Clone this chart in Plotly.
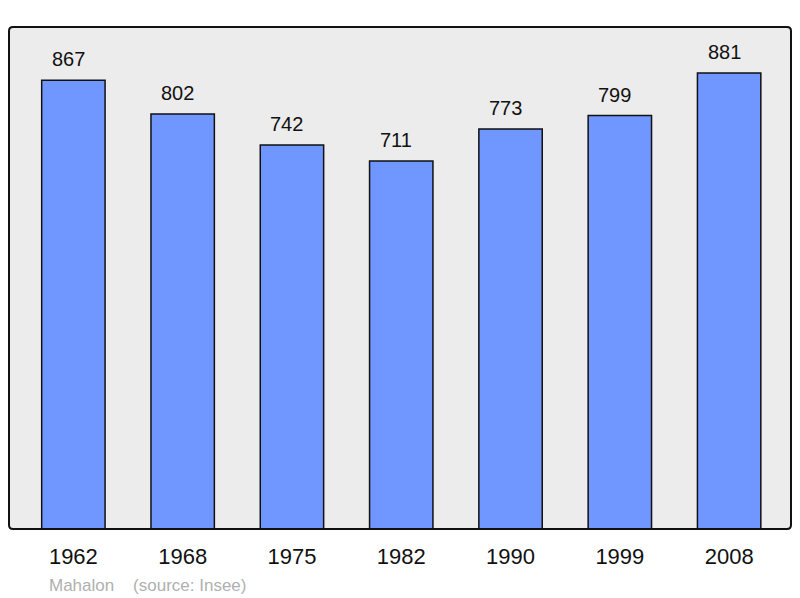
import plotly.graph_objects as go

years = ["1962", "1968", "1975", "1982", "1990", "1999", "2008"]
population = [867, 802, 742, 711, 773, 799, 881]
commune = "Mahalon"
source = "(source: Insee)"

# page has an 8px body margin: positions below are figure coords (page - 8)
OFF = 8
W, H = 792, 590
ml, mt = 9 - OFF, 27 - OFF
mr = W - (791 - OFF)
mb = H - (529 - OFF)
pw, ph = W - ml - mr, H - mt - mb

fig = go.Figure()
fig.add_trace(go.Bar(
    x=list(range(len(years))), y=population, width=0.58,
    marker=dict(color="#7097ff", line=dict(color="#111111", width=1.5)),
    hoverinfo="skip",
))

for i, v in enumerate(population):
    fig.add_annotation(x=i, y=v, text=str(v), showarrow=False, yanchor="bottom",
                       yshift=8, xshift=-5,
                       font=dict(family="Liberation Sans, Arial", size=20, color="#111111"))

fig.add_annotation(xref="paper", yref="paper", x=(47 - OFF - ml) / pw, y=-(585 - 529) / ph,
                   xanchor="left", yanchor="middle", showarrow=False,
                   text=commune + "&nbsp;&nbsp;&nbsp;&nbsp;" + source,
                   font=dict(family="Liberation Sans, Arial", size=17, color="#b0b0b0"))

# rounded frame
r = 4
rx, ry = r / pw, r / ph
path = (f"M {rx},0 L {1-rx},0 Q 1,0 1,{ry} L 1,{1-ry} Q 1,1 {1-rx},1 "
        f"L {rx},1 Q 0,1 0,{1-ry} L 0,{ry} Q 0,0 {rx},0 Z")
fig.add_shape(type="path", path=path, xref="paper", yref="paper",
              line=dict(color="#111111", width=2), layer="above")

fig.update_layout(
    width=W, height=H, margin=dict(l=ml, r=mr, t=mt, b=mb),
    paper_bgcolor="white", plot_bgcolor="#ececec", showlegend=False,
    xaxis=dict(range=[-0.589, 6.566], tickmode="array", tickvals=list(range(len(years))), ticktext=years,
               showgrid=False, zeroline=False, ticks="outside", ticklen=8, tickcolor="rgba(0,0,0,0)",
               tickfont=dict(family="Liberation Sans, Arial", size=22, color="#111111"), fixedrange=True),
    yaxis=dict(range=[0, 970], showgrid=False, zeroline=False, showticklabels=False, fixedrange=True),
)

fig.write_html("out.html")
